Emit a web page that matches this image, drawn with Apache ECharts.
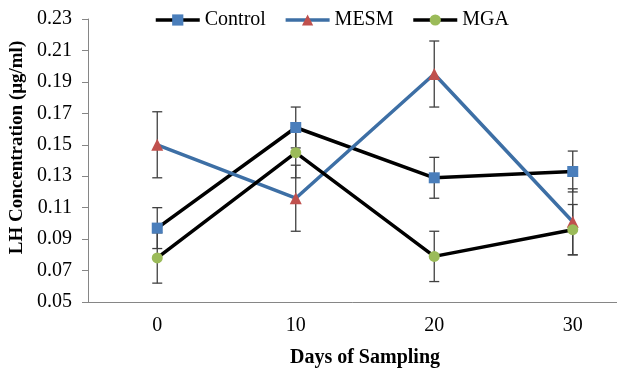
<!DOCTYPE html>
<html>
<head>
<meta charset="utf-8">
<script src="https://cdn.jsdelivr.net/npm/echarts@6/dist/echarts.min.js"></script>
<style>
  html, body { margin: 0; padding: 0; background: #fff; }
  #chart { width: 617px; height: 371px; }
</style>
</head>
<body>
<div id="chart"></div>
<script>
// values (LH, ug/ml) and +/- error bar half-lengths
const days = ['0', '10', '20', '30'];
const control = [0.097, 0.161, 0.129, 0.133];
const controlErr = [0.013, 0.013, 0.013, 0.013];
const mesm = [0.150, 0.116, 0.195, 0.101];
const mesmErr = [0.021, 0.021, 0.021, 0.021];
const mga = [0.078, 0.145, 0.079, 0.096];
const mgaErr = [0.016, 0.016, 0.016, 0.016];
const yMin = 0.05;
const yMax = 0.23;
const yStep = 0.02;

const FONT = '"Liberation Serif", serif';

function errorData(values, errs) {
  return values.map((v, i) => [i, v - errs[i], v + errs[i]]);
}

function renderErrorBar(params, api) {
  const x = api.value(0);
  const low = api.coord([x, api.value(1)]);
  const high = api.coord([x, api.value(2)]);
  const half = 5;
  const style = {stroke: '#404040', lineWidth: 1.3};
  return {
    type: 'group',
    children: [
      {type: 'line', shape: {x1: low[0], y1: low[1], x2: high[0], y2: high[1]}, style: style},
      {type: 'line', shape: {x1: low[0] - half, y1: low[1], x2: low[0] + half, y2: low[1]}, style: style},
      {type: 'line', shape: {x1: high[0] - half, y1: high[1], x2: high[0] + half, y2: high[1]}, style: style}
    ]
  };
}

function lineSeries(name, data, lineColor, markColor, symbol, size) {
  return {
    name: name,
    type: 'line',
    data: data,
    z: 3,
    symbol: symbol,
    symbolSize: size,
    showAllSymbol: true,
    lineStyle: {color: lineColor, width: 3.5},
    itemStyle: {color: markColor, borderWidth: 0},
    animation: false
  };
}

function errorSeries(values, errs) {
  return {
    type: 'custom',
    data: errorData(values, errs),
    renderItem: renderErrorBar,
    z: 2,
    silent: true,
    animation: false
  };
}

const chart = echarts.init(document.getElementById('chart'));

const option = {
  backgroundColor: '#fff',
  legend: {
    left: 149,
    top: 5,
    itemWidth: 44,
    itemHeight: 14,
    itemGap: 18,
    lineStyle: {width: 3.5},
    textStyle: {fontFamily: FONT, fontSize: 20, color: '#000'},
    data: ['Control', 'MESM', 'MGA']
  },
  // plot area runs past the right edge of the picture, as in the source
  grid: {
    left: 88,
    top: 19,
    width: 554,
    height: 283,
    outerBoundsMode: 'none'
  },
  xAxis: {
    type: 'category',
    data: days,
    name: 'Days of Sampling',
    nameLocation: 'middle',
    nameGap: 46,
    nameTextStyle: {fontFamily: FONT, fontSize: 20, fontWeight: 'bold', color: '#000'},
    axisLine: {lineStyle: {color: '#868686', width: 1}},
    axisTick: {length: 5, lineStyle: {color: '#868686'}},
    axisLabel: {fontFamily: FONT, fontSize: 20, color: '#000', margin: 14}
  },
  yAxis: {
    type: 'value',
    min: yMin,
    max: yMax,
    interval: yStep,
    name: 'LH Concentration (μg/ml)',
    nameLocation: 'middle',
    nameGap: 58,
    nameTextStyle: {fontFamily: FONT, fontSize: 19, fontWeight: 'bold', color: '#000', padding: [0, 0, 0, 26]},
    splitLine: {show: false},
    axisLine: {show: true, lineStyle: {color: '#868686', width: 1}},
    axisTick: {show: true, length: 6, lineStyle: {color: '#868686'}},
    axisLabel: {
      fontFamily: FONT,
      fontSize: 20,
      color: '#000',
      margin: 16,
      formatter: v => v.toFixed(2)
    }
  },
  series: [
    errorSeries(control, controlErr),
    errorSeries(mesm, mesmErr),
    errorSeries(mga, mgaErr),
    lineSeries('Control', control, '#000000', '#4A7EBB', 'rect', 11),
    lineSeries('MESM', mesm, '#3D6FA5', '#C0504D', 'triangle', 12),
    lineSeries('MGA', mga, '#000000', '#9BBB59', 'circle', 11)
  ]
};

chart.setOption(option);
</script>
</body>
</html>
